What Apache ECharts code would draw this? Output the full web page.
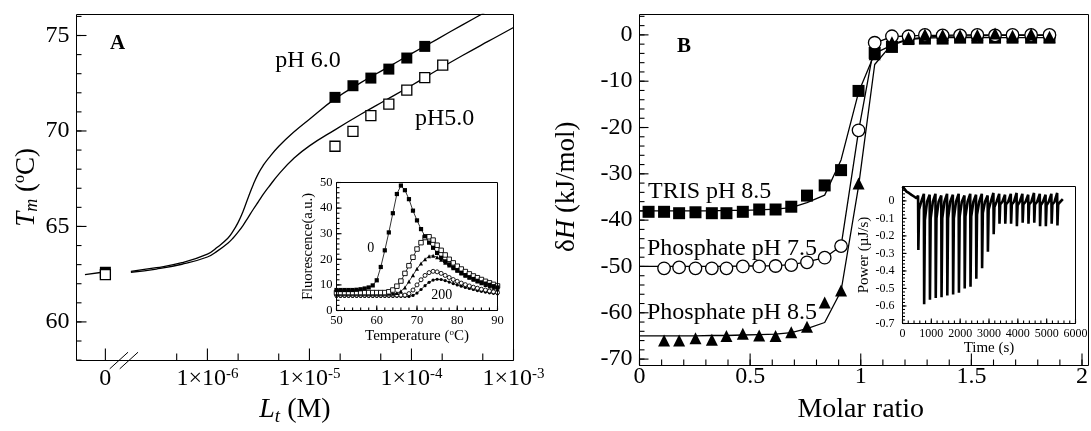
<!DOCTYPE html>
<html><head><meta charset="utf-8">
<script src="https://cdn.jsdelivr.net/npm/echarts@6/dist/echarts.min.js"></script>
<style>html,body{margin:0;padding:0;background:#fff}#c{width:1091px;height:431px}</style>
</head><body><div id="c"></div>
<script>
// ===== Panel A : Tm versus total ligand concentration (M); Lt = 0 is drawn at the axis break =====
const ltPH6 = [0, 17.8e-6, 26.7e-6, 40.0e-6, 60.0e-6, 90.0e-6, 135e-6];
const tmPH6 = [62.6, 71.76, 72.37, 72.77, 73.24, 73.82, 74.43];
const ltPH5 = [0, 17.8e-6, 26.7e-6, 40.0e-6, 60.0e-6, 90.0e-6, 135e-6, 202.5e-6];
const tmPH5 = [62.48, 69.20, 69.98, 70.80, 71.41, 72.14, 72.79, 73.45];
// fitted curves (log10 Lt)
const fitLog10Lt = [-6.75,-6.5,-6.25,-6.0,-5.9,-5.8,-5.75,-5.7,-5.65,-5.6,-5.55,-5.5,-5.45,-5.4,-5.3,-5.15,-5.0,-4.75,-4.5,-4.25,-4.0,-3.75,-3.5,-3.25,-3.0];
const fitPH6 = [62.65,62.84,63.10,63.55,63.92,64.38,64.74,65.20,65.80,66.52,67.20,67.78,68.22,68.58,69.20,69.96,70.62,71.68,72.52,73.28,74.05,74.80,75.56,76.30,77.05];
const fitPH5 = [62.60,62.77,63.02,63.40,63.72,64.12,64.38,64.70,65.06,65.48,65.90,66.30,66.70,67.06,67.74,68.58,69.22,70.06,70.86,71.62,72.38,73.18,73.95,74.69,75.42];
const zeroLog10Lt = [-7.2, -7.03];
const zeroFit = [62.48, 62.60];
const xMajorA = [-7, -6, -5, -4, -3];            // -7 is the "0" position
const xMinorA = [5e-7, 2e-6, 5e-6, 2e-5, 5e-5, 2e-4, 5e-4];
const yMajorA = [60, 65, 70, 75];

// ===== Inset A : fluorescence melting curves =====
const tempA = [50,51,52,53,54,55,56,57,58,59,60,61,62,63,64,65,66,67,68,69,70,71,72,73,74,75,76,77,78,79,80,81,82,83,84,85,86,87,88,89,90];
const fl0   = [8.0,8.0,8.0,8.0,8.0,8.1,8.3,8.6,9.0,9.8,11.8,17.0,23.5,30.5,38.0,45.5,48.8,47.0,43.5,39.0,35.2,31.8,29.0,26.5,24.5,22.5,20.6,19.2,18.0,16.8,15.7,14.7,13.8,13.0,12.3,11.6,11.0,10.5,10.0,9.5,9.0];
const fl1   = [7.0,7.0,7.0,7.0,7.0,7.0,7.0,7.0,7.0,7.0,7.0,7.0,7.0,7.3,8.0,9.5,11.5,14.5,17.5,20.8,24.0,26.5,28.5,28.8,27.5,25.5,23.5,21.7,20.0,18.6,17.3,16.2,15.2,14.3,13.5,12.8,12.1,11.4,10.8,10.2,9.6];
const fl2   = [6.5,6.5,6.5,6.5,6.5,6.5,6.5,6.5,6.5,6.5,6.5,6.5,6.5,6.5,6.5,6.8,7.5,9.0,11.3,13.8,16.3,18.4,20.0,21.2,21.4,20.8,19.8,18.7,17.6,16.5,15.5,14.5,13.6,12.8,12.0,11.3,10.6,10.0,9.4,8.9,8.4];
const fl3   = [6.0,6.0,6.0,6.0,6.0,6.0,6.0,6.0,6.0,6.0,6.0,6.0,6.0,6.0,6.0,6.0,6.0,6.0,6.6,8.0,10.0,12.0,13.7,14.8,15.3,15.1,14.5,13.7,12.9,12.1,11.4,10.7,10.1,9.6,9.1,8.7,8.3,8.0,7.6,7.3,7.0];
const fl4   = [5.5,5.5,5.5,5.5,5.5,5.5,5.5,5.5,5.5,5.5,5.5,5.5,5.5,5.5,5.5,5.5,5.5,5.5,5.5,5.9,6.8,8.2,9.7,11.0,11.9,12.2,12.1,11.7,11.1,10.5,10.0,9.5,9.0,8.6,8.2,7.8,7.5,7.2,6.9,6.7,6.5];

// ===== Panel B : ITC integrated heats =====
const ratio    = [0.041,0.111,0.179,0.253,0.327,0.393,0.467,0.541,0.615,0.686,0.757,0.837,0.911,0.990,1.063,1.141,1.216,1.290,1.370,1.449,1.527,1.607,1.686,1.770,1.853];
const fitRatio = [0.000,0.111,0.179,0.253,0.327,0.393,0.467,0.541,0.615,0.686,0.757,0.837,0.911,0.990,1.063,1.141,1.216,1.290,1.370,1.449,1.527,1.607,1.686,1.770,1.853];
const dhTris   = [-38.2,-38.2,-38.5,-38.3,-38.5,-38.5,-38.2,-37.7,-37.7,-37.1,-34.7,-32.5,-29.2,-12.1,-3.9,-2.6,-0.9,-0.8,-0.8,-0.6,-0.6,-0.6,-0.6,-0.6,-0.6];
const dhPhos75 = [null,-50.4,-50.2,-50.4,-50.4,-50.4,-50.0,-50.0,-49.9,-49.7,-49.1,-48.1,-45.6,-20.6,-1.7,-0.3,-0.3,0.0,-0.1,-0.1,0.0,-0.1,0.0,0.0,0.0];
const dhPhos85 = [null,-66.0,-66.0,-65.5,-65.8,-65.0,-64.5,-64.9,-65.0,-64.2,-63.0,-57.8,-55.2,-32.1,-4.2,-1.6,-0.6,0.1,0.0,-0.1,0.0,0.3,-0.2,0.2,-0.4];
const fitTris  = [-38.0,-38.0,-38.0,-38.0,-38.0,-37.9,-37.9,-37.8,-37.6,-37.3,-36.2,-34.6,-27.0,-12.4,-4.0,-2.2,-1.0,-0.7,-0.6,-0.6,-0.6,-0.6,-0.6,-0.6,-0.6];
const fitPhos75= [-50.0,-50.0,-50.0,-50.0,-50.0,-50.0,-49.9,-49.9,-49.8,-49.6,-49.0,-48.1,-45.6,-20.8,-1.8,-0.4,-0.2,-0.1,-0.1,0.0,0.0,0.0,0.0,0.0,0.0];
const fitPhos85= [-65.0,-65.0,-65.0,-65.0,-64.9,-64.9,-64.8,-64.7,-64.6,-64.3,-63.4,-62.1,-55.3,-32.7,-6.4,-2.0,-0.9,-0.5,-0.3,-0.2,-0.2,-0.1,-0.1,-0.1,-0.1];

// ===== Inset B : raw ITC power trace =====
const itcStartTime  = [0, 60, 140, 220, 312, 400, 486, 525];
const itcStartPower = [0.082, 0.070, 0.053, 0.045, 0.034, 0.025, 0.015, 0.010];
const injTime = [540,741,942,1143,1344,1545,1746,1947,2148,2349,2550,2751,2952,3153,3354,3555,3756,3957,4158,4359,4560,4761,4962,5163,5364];
const injPeak = [-0.28,-0.59,-0.565,-0.555,-0.55,-0.54,-0.535,-0.525,-0.50,-0.49,-0.445,-0.385,-0.29,-0.19,-0.13,-0.13,-0.13,-0.145,-0.125,-0.13,-0.125,-0.145,-0.145,-0.13,-0.14];
const injTail = [-0.05,-0.11,-0.10,-0.10,-0.10,-0.10,-0.10,-0.09,-0.09,-0.09,-0.08,-0.07,-0.05,-0.035,-0.02,-0.02,-0.02,-0.025,-0.02,-0.02,-0.02,-0.025,-0.025,-0.02,-0.02];
const injBlip = [0.03,0.04,0.035,0.04,0.03,0.04,0.035,0.04,0.03,0.04,0.035,0.04,0.03,0.045,0.04,0.035,0.04,0.045,0.04,0.035,0.045,0.04,0.035,0.04,0.045];
const itcEnd = [5560, 0.01];

// ---------------------------------------------------------------
const FF = '"Liberation Serif", "Times New Roman", serif';
const K = '#000';
const toX = L => (L === 0 ? -7 : Math.log10(L));
const range = (a, b, s) => { const r = []; const n = Math.round((b - a) / s); for (let k = 0; k <= n; k++) r.push(+(a + k * s).toFixed(4)); return r; };

const chart = echarts.init(document.getElementById('c'), null, {renderer: 'canvas'});

const gridBoxes = [
  {left: 76.5, top: 14.5, width: 437, height: 346},
  {left: 336.5, top: 182.5, width: 161, height: 128},
  {left: 639.5, top: 14.5, width: 449, height: 351},
  {left: 902.5, top: 186.5, width: 173, height: 137}
];
const grids = gridBoxes.map(g => Object.assign({show: false, containLabel: false}, g));

function axis(gridIndex, position, min, max, labelValues, label, extra) {
  return Object.assign({
    type: 'value', gridIndex, position, min, max,
    axisLine: {show: false, onZero: false}, splitLine: {show: false}, axisTick: {show: false},
    axisLabel: Object.assign({show: true, customValues: labelValues, color: K, fontFamily: FF}, label)
  }, extra || {});
}
const supRich = (size, base) => ({
  n: {fontSize: base, fontFamily: FF, color: K, lineHeight: base + 2},
  s: {fontSize: size, fontFamily: FF, color: K, verticalAlign: 'top', lineHeight: size}
});

const xAxis = [
  axis(0, 'bottom', -7.283, -3, xMajorA, {
    fontSize: 24, margin: 6,
    formatter: v => (v === -7 ? '{n|0}' : '{n|1×10}{s|' + v + '}'),
    rich: supRich(15, 24)
  }, {
    name: '{i|L}{b|t}{n| (M)}', nameLocation: 'middle', nameGap: 30,
    nameTextStyle: {fontFamily: FF, color: K, fontSize: 28, rich: {
      i: {fontSize: 28, fontStyle: 'italic', fontFamily: FF, color: K, lineHeight: 32},
      b: {fontSize: 19, fontStyle: 'italic', fontFamily: FF, color: K, verticalAlign: 'bottom', lineHeight: 19},
      n: {fontSize: 28, fontFamily: FF, color: K, lineHeight: 32}}}
  }),
  axis(1, 'bottom', 50, 90, range(50, 90, 10), {fontSize: 12.5, margin: 4}, {
    name: 'Temperature ({s|o}C)', nameLocation: 'middle', nameGap: 18,
    nameTextStyle: {fontFamily: FF, color: K, fontSize: 15, lineHeight: 16, rich: {
      s: {fontSize: 9, fontFamily: FF, color: K, verticalAlign: 'top', lineHeight: 9}}}
  }),
  axis(2, 'bottom', 0, 2, [0, 0.5, 1, 1.5, 2], {fontSize: 24, margin: 6}, {
    name: 'Molar ratio', nameLocation: 'middle', nameGap: 30,
    nameTextStyle: {fontFamily: FF, color: K, fontSize: 28, lineHeight: 32}
  }),
  axis(3, 'bottom', 0, 6000, range(0, 6000, 1000), {fontSize: 12, margin: 4, formatter: v => String(v)}, {
    name: 'Time (s)', nameLocation: 'middle', nameGap: 15,
    nameTextStyle: {fontFamily: FF, color: K, fontSize: 15, lineHeight: 16}
  })
];

const yAxis = [
  axis(0, 'left', 58, 76.1, yMajorA, {fontSize: 24, margin: 7}, {
    name: '{i|T}{b|m}{n| (}{s|o}{n|C)}', nameLocation: 'middle', nameRotate: 90, nameGap: 34,
    nameTextStyle: {fontFamily: FF, color: K, fontSize: 27, rich: {
      i: {fontSize: 27, fontStyle: 'italic', fontFamily: FF, color: K, lineHeight: 30},
      b: {fontSize: 18, fontStyle: 'italic', fontFamily: FF, color: K, verticalAlign: 'bottom', lineHeight: 18},
      n: {fontSize: 27, fontFamily: FF, color: K, lineHeight: 30},
      s: {fontSize: 16, fontFamily: FF, color: K, verticalAlign: 'top', lineHeight: 16}}}
  }),
  axis(1, 'left', 0, 50, range(0, 50, 10), {fontSize: 12.5, margin: 4}, {
    name: 'Fluorescence(a.u.)', nameLocation: 'middle', nameRotate: 90, nameGap: 17,
    nameTextStyle: {fontFamily: FF, color: K, fontSize: 14.5, lineHeight: 16}
  }),
  axis(2, 'left', -70, 4.4, range(-70, 0, 10), {fontSize: 24, margin: 7}, {
    name: '{d|δ}{i|H}{n| (kJ/mol)}', nameLocation: 'middle', nameRotate: 90, nameGap: 58,
    nameTextStyle: {fontFamily: FF, color: K, fontSize: 27, rich: {
      d: {fontSize: 27, fontFamily: FF, color: K, lineHeight: 30},
      i: {fontSize: 27, fontStyle: 'italic', fontFamily: FF, color: K, lineHeight: 30},
      n: {fontSize: 27, fontFamily: FF, color: K, lineHeight: 30}}}
  }),
  axis(3, 'left', -0.7, 0.082, range(-0.7, 0, 0.1), {fontSize: 12, margin: 8,
    formatter: v => (Math.abs(v) < 1e-9 ? '0' : v.toFixed(1))}, {
    name: 'Power (µJ/s)', nameLocation: 'middle', nameRotate: 90, nameGap: 28,
    nameTextStyle: {fontFamily: FF, color: K, fontSize: 15, lineHeight: 16}
  })
];

// ITC trace assembled from the read injection values
const itcTrace = itcStartTime.map((t, i) => [t, itcStartPower[i]]);
injTime.forEach((t, i) => {
  itcTrace.push([t, injBlip[i]], [t + 10, injPeak[i]], [t + 35, injTail[i]], [t + 110, -0.005]);
});
itcTrace.push(itcEnd);

const lineS = (ai, data, w, extra) => Object.assign({
  type: 'line', xAxisIndex: ai, yAxisIndex: ai, data, showSymbol: false, symbol: 'none',
  lineStyle: {color: K, width: w}, clip: true, silent: true, z: 2
}, extra || {});
const ptS = (ai, data, symbol, size, filled, bw) => ({
  type: 'scatter', xAxisIndex: ai, yAxisIndex: ai, data, symbol, symbolSize: size, silent: true, z: 3,
  itemStyle: filled ? {color: K, borderColor: K, borderWidth: 0, opacity: 1} : {color: '#fff', borderColor: K, borderWidth: bw, opacity: 1}
});
const insetS = (data, symbol, size, filled) => ({
  type: 'line', xAxisIndex: 1, yAxisIndex: 1, data: tempA.map((t, i) => [t, data[i]]),
  symbol, symbolSize: size, showSymbol: true, silent: true, z: 3,
  lineStyle: {color: K, width: 0.8},
  itemStyle: filled ? {color: K, borderColor: K, borderWidth: 0, opacity: 1} : {color: '#fff', borderColor: K, borderWidth: 0.9, opacity: 1}
});
const pairs = (xs, ys) => xs.map((x, i) => [x, ys[i]]).filter(p => p[1] !== null);

const series = [
  lineS(0, pairs(fitLog10Lt, fitPH6), 1.3, {smooth: 0.45}),
  lineS(0, pairs(fitLog10Lt, fitPH5), 1.3, {smooth: 0.45}),
  lineS(0, pairs(zeroLog10Lt, zeroFit), 1.3),
  ptS(0, ltPH6.map((L, i) => [toX(L), tmPH6[i]]), 'rect', 11, true),
  ptS(0, ltPH5.map((L, i) => [toX(L), tmPH5[i]]), 'rect', 10, false, 1.3),

  insetS(fl4, 'circle', 3.2, true),
  insetS(fl3, 'circle', 4, false),
  insetS(fl2, 'triangle', 4, true),
  insetS(fl1, 'rect', 4.5, false),
  insetS(fl0, 'rect', 4.2, true),

  lineS(2, pairs(fitRatio, fitTris), 1.3),
  lineS(2, pairs(fitRatio, fitPhos75), 1.3),
  lineS(2, pairs(fitRatio, fitPhos85), 1.3),
  ptS(2, pairs(ratio, dhTris), 'rect', 12, true),
  ptS(2, pairs(ratio, dhPhos75), 'circle', 12.5, false, 1.3),
  ptS(2, pairs(ratio, dhPhos85), 'triangle', 12, true),

  lineS(3, itcTrace, 2.6)
];

chart.setOption({animation: false, backgroundColor: '#fff', grid: grids, xAxis, yAxis, series});

// ---- frames and inward tick marks (filled slivers), placed through each axis' own scale ----
const tickSpec = [
  {a: 0, x: [[xMajorA, 12], [xMinorA.map(Math.log10), 7]], y: [[yMajorA, 10], [range(58, 76, 1), 5]]},
  {a: 1, x: [[range(50, 90, 10), 5], [range(50, 90, 2), 3]], y: [[range(0, 50, 10), 5], [range(0, 50, 2), 3]]},
  {a: 2, x: [[range(0, 2, 0.5), 12], [range(0, 2, 0.1), 6]], y: [[range(-70, 0, 10), 9], [range(-70, 4, 2), 5]]},
  {a: 3, x: [[range(0, 6000, 1000), 5], [range(0, 6000, 200), 3]], y: [[range(-0.7, 0, 0.1), 4], [range(-0.7, 0.08, 0.02), 2.5]]}
];
const graphics = [];
const TW = 1.1;
tickSpec.forEach(s => {
  const g = gridBoxes[s.a];
  const bottom = g.top + g.height;
  graphics.push({type: 'rect', silent: true, z: 9,
    shape: {x: g.left, y: g.top, width: g.width, height: g.height},
    style: {fill: 'none', stroke: K, lineWidth: 1}});
  s.x.forEach(([vals, len]) => vals.forEach(v => {
    const px = chart.convertToPixel({xAxisIndex: s.a}, v);
    graphics.push({type: 'rect', silent: true, z: 9,
      shape: {x: px - TW / 2, y: bottom - len, width: TW, height: len},
      style: {fill: K, stroke: null}});
  }));
  s.y.forEach(([vals, len]) => vals.forEach(v => {
    const py = chart.convertToPixel({yAxisIndex: s.a}, v);
    graphics.push({type: 'rect', silent: true, z: 9,
      shape: {x: g.left, y: py - TW / 2, width: len, height: TW},
      style: {fill: K, stroke: null}});
  }));
});

// annotations
const txt = (text, x, y, size, opts) => ({
  type: 'text', z: 10, silent: true,
  style: Object.assign({text, x, y, fill: K, fontSize: size, fontFamily: FF,
    align: 'center', textAlign: 'center', verticalAlign: 'middle', textVerticalAlign: 'middle'}, opts || {})
});
const left = {align: 'left', textAlign: 'left'};
graphics.push(
  txt('A', 117.5, 43.5, 21, {fontWeight: 'bold'}),
  txt('pH 6.0', 308, 60.5, 24),
  txt('pH5.0', 444.7, 119, 24),
  txt('0', 370.7, 248.3, 14),
  txt('200', 441.7, 295, 14),
  txt('B', 684, 47, 21, {fontWeight: 'bold'}),
  txt('TRIS pH 8.5', 648, 191.3, 24, left),
  txt('Phosphate pH 7.5', 647, 248.7, 24, left),
  txt('Phosphate pH 8.5', 647, 313, 24, left)
);
// axis-break marks on panel A's x axis
const brX = chart.convertToPixel({xAxisIndex: 0}, -6.818);
const brY = gridBoxes[0].top + gridBoxes[0].height;
[-10, 0].forEach(dx => graphics.push({
  type: 'line', z: 10, silent: true,
  shape: {x1: brX + dx - 4.2, y1: brY + 8.3, x2: brX + dx + 14.1, y2: brY - 8.3},
  style: {stroke: K, lineWidth: 1}
}));
chart.setOption({graphic: graphics});
</script>
</body></html>
